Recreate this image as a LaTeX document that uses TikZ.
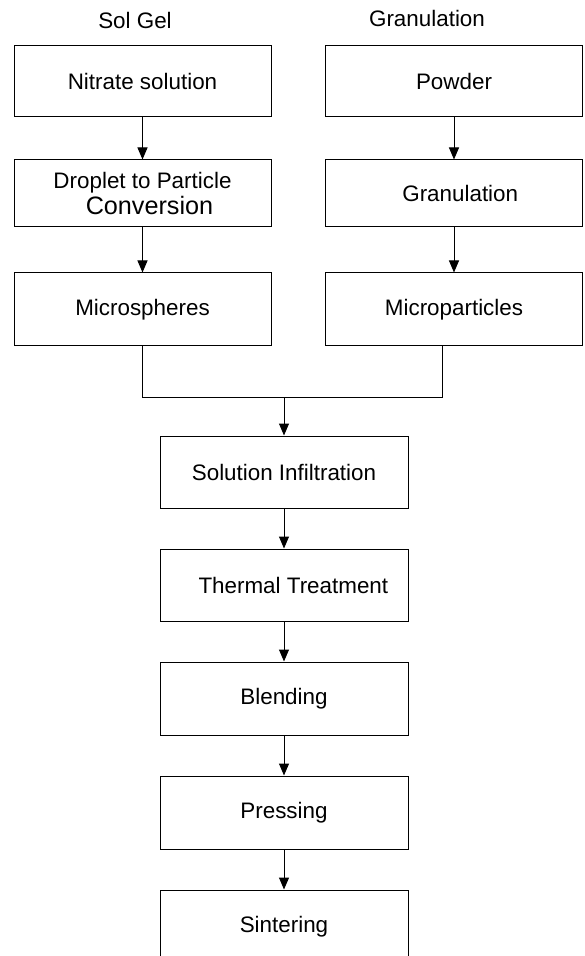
\documentclass[tikz,border=0pt]{standalone}
\usepackage{fontspec}
\setmainfont{Liberation Sans}
\usetikzlibrary{arrows.meta}
\usetikzlibrary{positioning}

\begin{document}
\begin{tikzpicture}[>={Triangle[length=6pt,width=5pt]},node distance=20pt,line width=0.5pt]
  \tikzset{every node/.style={font=\fontsize{11.2}{13}\selectfont}}
  \tikzset{box/.style={draw,minimum width=128.5pt,minimum height=36pt,inner sep=2pt,align=center}}
  \tikzset{midbox/.style={box,minimum width=124pt}}

  \useasboundingbox (0,0) rectangle (292pt,-478pt);

  % column heads
  \node (solgel) at (67.5pt,-10.5pt) {Sol Gel};
  \node (gran) at (213.5pt,-9.5pt) {Granulation};

  % sol gel route
  \node[box,minimum height=35.5pt] (nit) at (71.25pt,-40.75pt) {Nitrate solution};
  \node[box,minimum height=33.5pt] (drop) [below=21pt of nit]
    {Droplet to Particle\\ {\fontsize{12.6}{13}\selectfont\ \ Conversion}};
  \node[box,minimum height=36.5pt] (ms) [below=22.5pt of drop] {Microspheres};

  % granulation route
  \node[box,minimum height=35.5pt] (pow) at (227pt,-40.75pt) {Powder};
  \node[box,minimum height=33.5pt] (grn) [below=21pt of pow] {\ \ Granulation};
  \node[box,minimum height=36.5pt] (mp) [below=22.5pt of grn] {Microparticles};

  % common steps
  \node[midbox] (inf) at (142pt,-236pt) {Solution Infiltration};
  \node[midbox] (therm) [below=of inf] {\ \ \ Thermal Treatment};
  \node[midbox,minimum height=36.5pt] (blend) [below=of therm] {Blending};
  \node[midbox,minimum height=36.5pt] (press) [below=of blend] {Pressing};
  \node[midbox,minimum height=36.5pt] (sint) [below=of press] {Sintering};

  \coordinate[above=19pt of inf] (merge);

  \draw[->] (nit) -- (drop);
  \draw[->] (drop) -- (ms);
  \draw[->] (pow) -- (grn);
  \draw[->] (grn) -- (mp);

  \draw (ms.south) |- (merge) -| ([xshift=-6pt]mp.south);
  \draw[->] (merge) -- (inf);

  \draw[->] (inf) -- (therm);
  \draw[->] (therm) -- (blend);
  \draw[->] (blend) -- (press);
  \draw[->] (press) -- (sint);
\end{tikzpicture}
\end{document}
